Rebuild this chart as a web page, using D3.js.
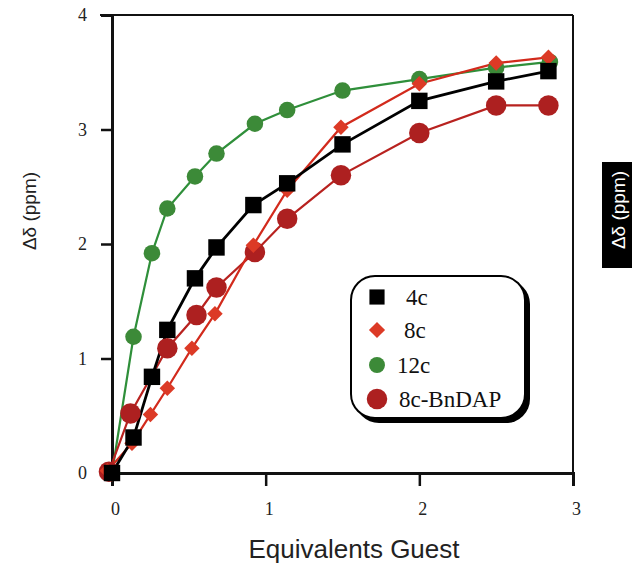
<!DOCTYPE html>
<html>
<head>
<meta charset="utf-8">
<script src="https://cdn.jsdelivr.net/npm/d3@7"></script>
<style>
body { margin: 0; background: #fff; }
</style>
</head>
<body>
<script>
// ---------------------------- data -----------------------------------
var xTicks = [0, 1, 2, 3];
var yTicks = [0, 1, 2, 3, 4];

var x4c = [0, 0.14, 0.26, 0.36, 0.54, 0.68, 0.92, 1.14, 1.5, 2.0, 2.5, 2.84];
var y4c = [0, 0.31, 0.84, 1.25, 1.70, 1.97, 2.34, 2.53, 2.87, 3.25, 3.42, 3.51];

var x8c = [-0.03, 0.13, 0.25, 0.36, 0.52, 0.67, 0.92, 1.14, 1.49, 2.0, 2.5, 2.84];
var y8c = [0.02, 0.26, 0.51, 0.74, 1.09, 1.39, 1.99, 2.47, 3.02, 3.40, 3.58, 3.63];

var x12c = [0, 0.14, 0.26, 0.36, 0.54, 0.68, 0.93, 1.14, 1.5, 2.0, 2.5, 2.85];
var y12c = [0, 1.19, 1.92, 2.31, 2.59, 2.79, 3.05, 3.17, 3.34, 3.44, 3.54, 3.59];

var xBn = [-0.02, 0.12, 0.36, 0.55, 0.68, 0.93, 1.14, 1.49, 2.0, 2.5, 2.84];
var yBn = [0.01, 0.52, 1.09, 1.38, 1.62, 1.93, 2.22, 2.60, 2.97, 3.21, 3.21];

var seriesNames = ['4c', '8c', '12c', '8c-BnDAP'];

// ---------------------------- d3 -----------------------------------
var width = 632, height = 563;
var pLeft = 112, pRight = 573, pTop = 15, pBottom = 473;

var svg = d3.select('body').append('svg').attr('width', width).attr('height', height);

var x = d3.scaleLinear().domain([0, 3]).range([pLeft, pRight]);
var y = d3.scaleLinear().domain([0, 4]).range([pBottom, pTop]);

var serif = 'Liberation Serif, Times New Roman, serif';
var sans = 'Liberation Sans, Arial, sans-serif';

// frame (top + right, thinner)
svg.append('line').attr('x1', pLeft - 12).attr('x2', pRight).attr('y1', pTop).attr('y2', pTop)
	.attr('stroke', '#111').attr('stroke-width', 2);
svg.append('line').attr('x1', pRight).attr('x2', pRight).attr('y1', pTop).attr('y2', pBottom + 13)
	.attr('stroke', '#111').attr('stroke-width', 2);

var yAxis = svg.append('g').attr('transform', 'translate(' + pLeft + ',0)')
	.call(d3.axisLeft(y).tickValues(yTicks).tickSize(11).tickPadding(14).tickFormat(d3.format('d')));
var xAxis = svg.append('g').attr('transform', 'translate(0,' + pBottom + ')')
	.call(d3.axisBottom(x).tickValues(xTicks).tickSize(13).tickPadding(16).tickFormat(d3.format('d')));

[yAxis, xAxis].forEach(function(g) {
	g.select('.domain').attr('stroke', '#111').attr('stroke-width', 3);
	g.selectAll('.tick line').attr('stroke', '#111').attr('stroke-width', 2.5);
	g.selectAll('.tick text').attr('font-family', serif).attr('font-size', '18px').attr('fill', '#222');
});
xAxis.selectAll('.tick text').attr('dx', 3);
xAxis.selectAll('.tick').filter(function(d) { return d === 3; }).select('line').attr('stroke-width', 2);

// axis titles
svg.append('text').attr('x', 354).attr('y', 558).attr('text-anchor', 'middle')
	.attr('font-family', sans).attr('font-size', '26px').attr('fill', '#222').text('Equivalents Guest');
svg.append('text').attr('transform', 'translate(36,211) rotate(-90)').attr('text-anchor', 'middle')
	.attr('font-family', sans).attr('font-size', '19px').attr('fill', '#222').text('Δδ (ppm)');

// right side label block
svg.append('rect').attr('x', 602).attr('y', 162).attr('width', 32).attr('height', 106).attr('fill', '#000');
svg.append('text').attr('transform', 'translate(625,210) rotate(-90)').attr('text-anchor', 'middle')
	.attr('font-family', sans).attr('font-size', '19px').attr('fill', '#fff').text('Δδ (ppm)');

// ---------------------------- series -----------------------------------
function zip(xs, ys) {
	return xs.map(function(v, i) { return { x: v, y: ys[i] }; });
}

var line = d3.line().x(function(d) { return x(d.x); }).y(function(d) { return y(d.y); });

// diamonds are squares turned by 45 degrees
var series = [
	{ name: seriesNames[2], data: zip(x12c, y12c), color: '#3c8a38', line: '#2f8f3a', lw: 2.2, symbol: d3.symbolCircle, size: 215, rot: 0 },
	{ name: seriesNames[3], data: zip(xBn, yBn), color: '#ad2020', line: '#b8221f', lw: 2.2, symbol: d3.symbolCircle, size: 330, rot: 0 },
	{ name: seriesNames[1], data: zip(x8c, y8c), color: '#dc3a26', line: '#d22a1c', lw: 2.2, symbol: d3.symbolSquare, size: 120, rot: 45 },
	{ name: seriesNames[0], data: zip(x4c, y4c), color: '#000', line: '#000', lw: 2.8, symbol: d3.symbolSquare, size: 270, rot: 0 }
];

series.forEach(function(s) {
	svg.append('path').datum(s.data).attr('d', line).attr('fill', 'none')
		.attr('stroke', s.line).attr('stroke-width', s.lw);
});
series.forEach(function(s) {
	svg.append('g').selectAll('path').data(s.data).enter().append('path')
		.attr('transform', function(d) { return 'translate(' + x(d.x) + ',' + y(d.y) + ') rotate(' + s.rot + ')'; })
		.attr('d', d3.symbol().type(s.symbol).size(s.size))
		.attr('fill', s.color);
});

// ---------------------------- legend -----------------------------------
var legend = svg.append('g');
legend.append('rect').attr('x', 355).attr('y', 280).attr('width', 175).attr('height', 143)
	.attr('rx', 24).attr('fill', '#000');
legend.append('rect').attr('x', 351).attr('y', 276).attr('width', 174).attr('height', 142)
	.attr('rx', 24).attr('fill', '#fff').attr('stroke', '#000').attr('stroke-width', 2);

var legendItems = [
	{ name: seriesNames[0], symbol: d3.symbolSquare, size: 230, rot: 0, color: '#000', tx: 406, ty: 297 },
	{ name: seriesNames[1], symbol: d3.symbolSquare, size: 130, rot: 45, color: '#dc3a26', tx: 404, ty: 330 },
	{ name: seriesNames[2], symbol: d3.symbolCircle, size: 200, rot: 0, color: '#3c8a38', tx: 397, ty: 365 },
	{ name: seriesNames[3], symbol: d3.symbolCircle, size: 330, rot: 0, color: '#ad2020', tx: 399, ty: 399 }
];
legendItems.forEach(function(it) {
	legend.append('path').attr('transform', 'translate(377,' + it.ty + ') rotate(' + it.rot + ')')
		.attr('d', d3.symbol().type(it.symbol).size(it.size)).attr('fill', it.color);
	legend.append('text').attr('x', it.tx).attr('y', it.ty + 8)
		.attr('font-family', serif).attr('font-size', '23px').attr('fill', '#111').text(it.name);
});
</script>
</body>
</html>
